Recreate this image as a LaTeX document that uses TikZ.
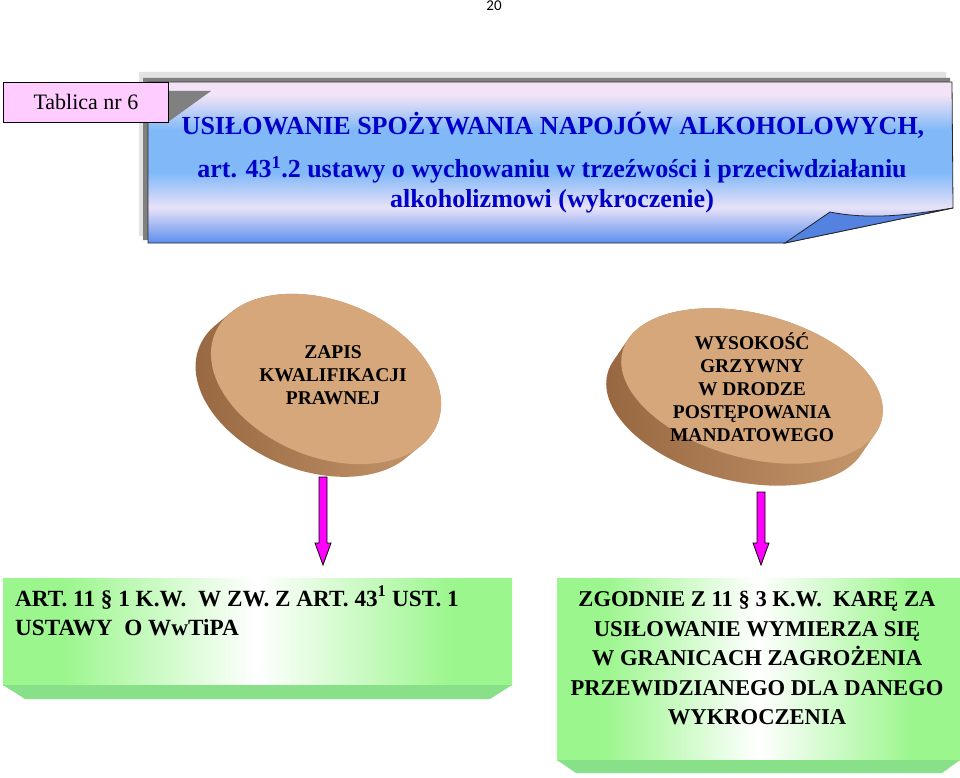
\documentclass[tikz,border=0pt]{standalone}
\usepackage{fontspec}
\setmainfont{Liberation Serif}
\newfontfamily\pagefont{Carlito}
\usetikzlibrary{calc}

\definecolor{shLight}{RGB}{226,226,226}
\definecolor{shDark}{RGB}{128,128,128}
\definecolor{bTop}{RGB}{242,228,246}
\definecolor{bLight}{RGB}{128,184,248}
\definecolor{bLow}{RGB}{232,226,248}
\definecolor{bBot}{RGB}{92,142,238}
\definecolor{flap}{RGB}{84,130,224}
\definecolor{pinklab}{RGB}{255,204,255}
\definecolor{titleblue}{RGB}{0,0,200}
\definecolor{discTop}{RGB}{213,167,122}
\definecolor{discDark}{RGB}{150,102,64}
\definecolor{discMid}{RGB}{200,154,110}
\definecolor{gEdge}{RGB}{156,246,142}
\definecolor{gBevel}{RGB}{136,224,136}
\definecolor{arrowpink}{RGB}{255,0,255}

\pgfdeclareverticalshading{bannershade}{100bp}{color(0bp)=(bBot); color(25bp)=(bBot); color(36bp)=(bLow); color(47bp)=(bLight); color(60bp)=(bLight); color(71bp)=(bTop); color(100bp)=(bTop)}
\pgfdeclarehorizontalshading{greenshade}{100bp}{color(0bp)=(gEdge); color(31bp)=(gEdge); color(50bp)=(white); color(69bp)=(gEdge); color(100bp)=(gEdge)}

\tikzset{
  titletext/.style={text=titleblue, inner sep=0pt, anchor=base, font=\bfseries\fontsize{26}{30}\selectfont},
  disctext/.style={align=center, inner sep=0pt, font=\bfseries\fontsize{19.5}{23}\selectfont},
  boxtext/.style={inner sep=0pt, font=\bfseries\fontsize{22.6}{29.5}\selectfont},
  arrowsty/.style={fill=arrowpink, draw=black, line width=0.8pt, line join=miter},
  outline/.style={draw=black!85, line width=0.8pt}
}

\begin{document}
\begin{tikzpicture}[x=1pt,y=-1pt]
\useasboundingbox (0,0) rectangle (960,778);
\fill[white] (0,0) rectangle (960,778);

% page number
\node[font=\pagefont\fontsize{15}{17}\selectfont, inner sep=0pt] (pg) at (494,6) {20};

% banner shadow
\fill[shLight] (139,72) -- (946,72) -- (946,200) -- (780,236) -- (139,236) -- cycle;
\fill[shDark] (143,78) -- (950,78) -- (950,205) -- (783,240) -- (143,240) -- cycle;
% banner
\shade[shading=bannershade, outline] (148,82) -- (952,82) -- (953,208) -- (785,243) -- (148,243) -- cycle;
\filldraw[fill=flap, outline] (785,243) -- (830,212) .. controls (870,220) and (910,215) .. (953,208) -- cycle;
% label shadow on banner
\fill[shDark] (160,91) -- (211,91) -- (168,122) -- (160,122) -- cycle;
% label
\node[draw=black, line width=0.8pt, fill=pinklab, minimum width=165pt, minimum height=40pt, inner sep=0pt, anchor=north west, font=\fontsize{22}{26}\selectfont] (lab) at (3,82) {Tablica nr 6};

% title
\node[titletext] (t1) at (553,135) {USIŁOWANIE SPOŻYWANIA NAPOJÓW ALKOHOLOWYCH,};
\node[titletext] (t2) at (552,178) {art. 43\textsuperscript{1}.2 ustawy o wychowaniu w trzeźwości i przeciwdziałaniu};
\node[titletext] (t3) at (552,207) {alkoholizmowi (wykroczenie)};

% left disc
\begin{scope}[shift={(326,379)}, rotate=-22]
  \shade[left color=discDark, right color=discMid] foreach \t in {0,1,...,16} {(-9.5*\t/16, 17.5*\t/16) ellipse [x radius=120, y radius=78]};
  \fill[discTop] (0,0) ellipse [x radius=120, y radius=78];
\end{scope}
% right disc
\begin{scope}[shift={(752,386)}, rotate=-15]
  \shade[left color=discDark, right color=discMid] foreach \t in {0,1,...,20} {(-8.8*\t/20, 25.1*\t/20) ellipse [x radius=134, y radius=72]};
  \fill[discTop] (0,0) ellipse [x radius=134, y radius=72];
\end{scope}

\node[disctext] (d1) at (333,375) {ZAPIS\\KWALIFIKACJI\\PRAWNEJ};
\node[disctext] (d2) at (752,387) {WYSOKOŚĆ\\GRZYWNY\\W DRODZE\\POSTĘPOWANIA\\MANDATOWEGO};

% green boxes
\shade[shading=greenshade] (3,578) rectangle (512,685);
\fill[gBevel] (3,685) -- (512,685) -- (490,699) -- (25,699) -- cycle;
\shade[shading=greenshade] (557,578) rectangle (960,760);
\fill[gBevel] (557,760) -- (960,760) -- (942,773) -- (576,773) -- cycle;

\node[boxtext, anchor=base west, font=\bfseries\fontsize{23.2}{29.5}\selectfont] (g1a) at (15,606) {ART. 11 § 1 K.W.\ \ W ZW. Z ART. 43\textsuperscript{1} UST. 1};
\node[boxtext, anchor=base west, font=\bfseries\fontsize{23.2}{29.5}\selectfont] (g1b) at (15,635) {USTAWY\ \ O WwTiPA};
\node[boxtext, align=center] (g2) at (757,658) {ZGODNIE Z 11 § 3 K.W.\ \ KARĘ ZA\\USIŁOWANIE WYMIERZA SIĘ\\W GRANICACH ZAGROŻENIA\\PRZEWIDZIANEGO DLA DANEGO\\WYKROCZENIA};

% arrows
\coordinate (a1s) at (323,477);
\coordinate (a1e) at (323,565);
\coordinate (a2s) at (761,492);
\coordinate (a2e) at (761,565);
\filldraw[arrowsty] ($(a1s)+(-4,0)$) -- ($(a1e)+(-4,-22)$) -- ($(a1e)+(-8,-22)$) -- (a1e) -- ($(a1e)+(8,-22)$) -- ($(a1e)+(4,-22)$) -- ($(a1s)+(4,0)$) -- cycle;
\filldraw[arrowsty] ($(a2s)+(-4,0)$) -- ($(a2e)+(-4,-22)$) -- ($(a2e)+(-8,-22)$) -- (a2e) -- ($(a2e)+(8,-22)$) -- ($(a2e)+(4,-22)$) -- ($(a2s)+(4,0)$) -- cycle;
\end{tikzpicture}
\end{document}
